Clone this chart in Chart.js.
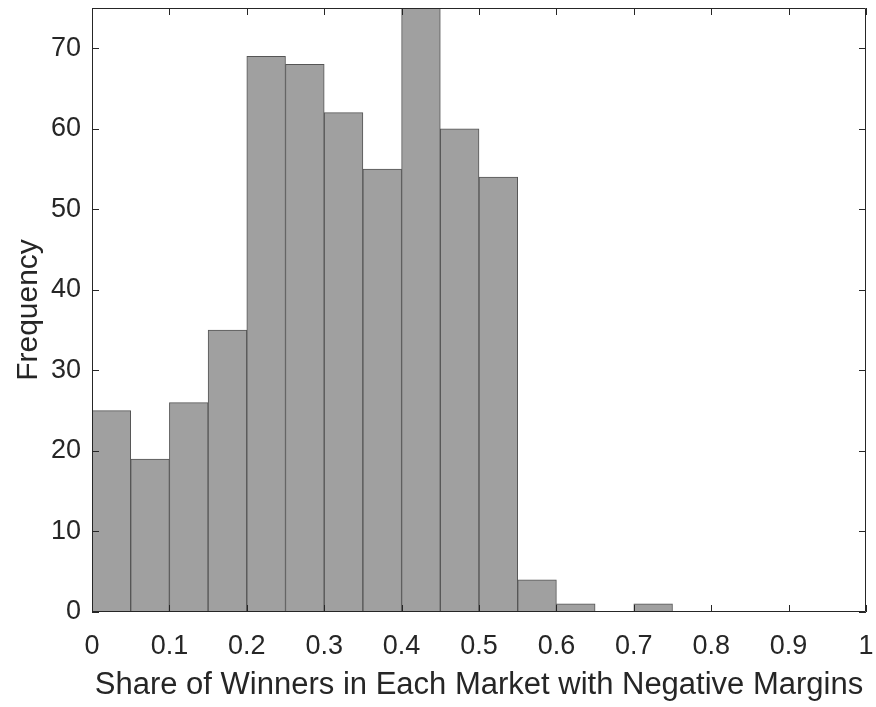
<!DOCTYPE html>
<html>
<head>
<meta charset="utf-8">
<script src="https://cdn.jsdelivr.net/npm/chart.js@4.4.1/dist/chart.umd.min.js"></script>
<style>
  body { margin: 0; background: #fff; }
  #wrap { width: 876px; height: 707px; }
</style>
</head>
<body>
<div id="wrap"><canvas id="hist"></canvas></div>
<script>
// bin edges every 0.05, counts per bin
var binStarts = [0, 0.05, 0.1, 0.15, 0.2, 0.25, 0.3, 0.35, 0.4, 0.45, 0.5, 0.55, 0.6, 0.65, 0.7, 0.75, 0.8, 0.85, 0.9, 0.95];
var counts = [25, 19, 26, 35, 69, 68, 62, 55, 75, 60, 54, 4, 1, 0, 1, 0, 0, 0, 0, 0];
var xTicks = [0, 0.1, 0.2, 0.3, 0.4, 0.5, 0.6, 0.7, 0.8, 0.9, 1];
var yTicks = [0, 10, 20, 30, 40, 50, 60, 70];

var axisColor = '#262626';
var fontFamily = 'Liberation Sans, Arial, sans-serif';
var binWidth = 0.05;

var points = binStarts.map(function(s, i) {
    return { x: s + binWidth / 2, y: counts[i] };
});

// MATLAB style box with inward ticks on all four sides
var boxTicks = {
    id: 'boxTicks',
    afterDraw: function(chart) {
        var ctx = chart.ctx;
        var a = chart.chartArea;
        var xs = chart.scales.x, ys = chart.scales.y;
        var len = 7;
        ctx.save();
        ctx.strokeStyle = axisColor;
        ctx.lineWidth = 1;
        ctx.beginPath();
        ctx.rect(a.left + 0.5, a.top + 0.5, a.right - a.left - 1, a.bottom - a.top - 1);
        xTicks.forEach(function(v) {
            var px = Math.round(xs.getPixelForValue(v)) + 0.5;
            ctx.moveTo(px, a.bottom);
            ctx.lineTo(px, a.bottom - len);
            ctx.moveTo(px, a.top);
            ctx.lineTo(px, a.top + len);
        });
        yTicks.forEach(function(v) {
            var py = Math.round(ys.getPixelForValue(v)) + 0.5;
            ctx.moveTo(a.left, py);
            ctx.lineTo(a.left + len, py);
            ctx.moveTo(a.right, py);
            ctx.lineTo(a.right - len, py);
        });
        ctx.stroke();
        ctx.restore();
    }
};

new Chart(document.getElementById('hist'), {
    type: 'bar',
    data: {
        datasets: [{
            data: points,
            backgroundColor: '#a0a0a0',
            borderColor: '#555555',
            borderWidth: 1,
            barPercentage: 1,
            categoryPercentage: 1,
            grouped: false
        }]
    },
    options: {
        responsive: true,
        maintainAspectRatio: false,
        animation: false,
        layout: { padding: { top: 8, right: 10, left: 0, bottom: 3 } },
        plugins: {
            legend: { display: false },
            tooltip: { enabled: false }
        },
        scales: {
            x: {
                type: 'linear',
                min: 0,
                max: 1,
                offset: false,
                afterBuildTicks: function(scale) {
                    scale.ticks = xTicks.map(function(v) { return { value: v }; });
                },
                afterFit: function(scale) {
                    scale.height = 92;
                    scale.paddingLeft = 0;
                    scale.paddingRight = 0;
                },
                grid: { display: false, drawTicks: false },
                border: { display: false },
                ticks: {
                    color: axisColor,
                    font: { family: fontFamily, size: 27 },
                    padding: 18,
                    maxRotation: 0,
                    autoSkip: false,
                    callback: function(v) { return String(v); }
                },
                title: {
                    display: true,
                    text: 'Share of Winners in Each Market with Negative Margins',
                    color: axisColor,
                    font: { family: fontFamily, size: 31 },
                    padding: { top: 0, bottom: 0 }
                }
            },
            y: {
                min: 0,
                max: 75,
                afterBuildTicks: function(scale) {
                    scale.ticks = yTicks.map(function(v) { return { value: v }; });
                },
                afterFit: function(scale) {
                    scale.width = 92;
                    scale.paddingTop = 0;
                    scale.paddingBottom = 0;
                },
                grid: { display: false, drawTicks: false },
                border: { display: false },
                ticks: {
                    color: axisColor,
                    font: { family: fontFamily, size: 27 },
                    padding: 11,
                    autoSkip: false
                },
                title: {
                    display: true,
                    text: 'Frequency',
                    color: axisColor,
                    font: { family: fontFamily, size: 30 },
                    padding: { top: 11, bottom: 0 }
                }
            }
        }
    },
    plugins: [boxTicks]
});
</script>
</body>
</html>
